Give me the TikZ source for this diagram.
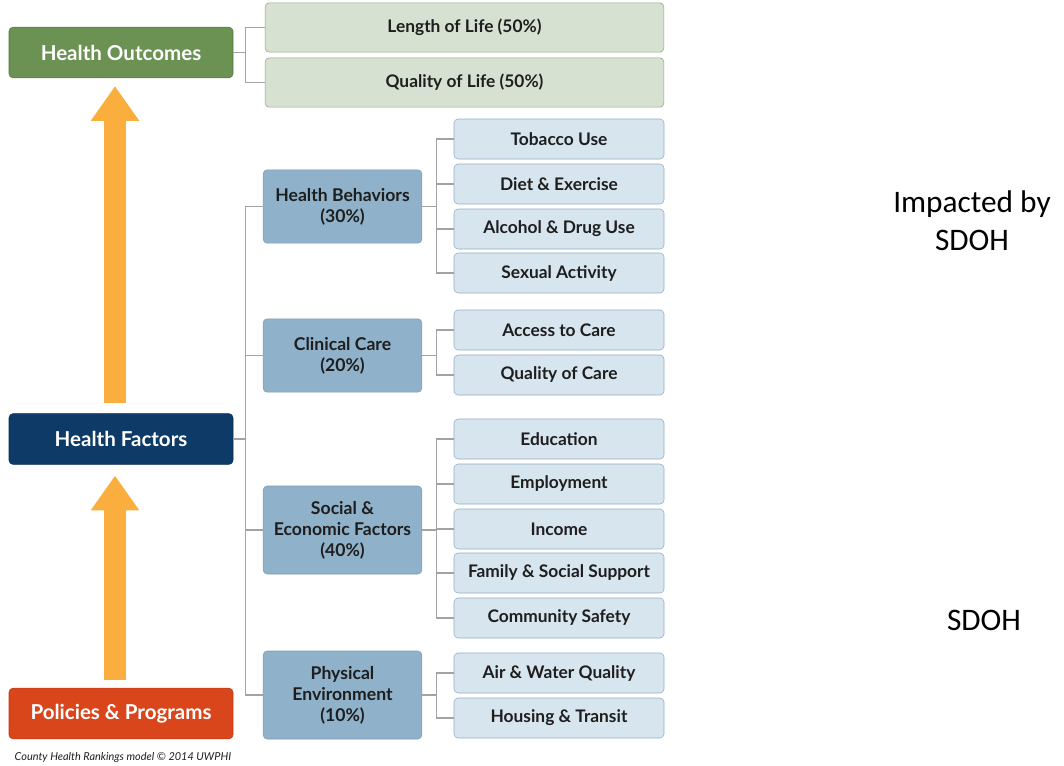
\documentclass[tikz,border=0pt]{standalone}
\usepackage{fontspec}
\setmainfont{Lato}
\newfontfamily\calibrifont{Carlito}
\usepackage{xcolor}
\usetikzlibrary{arrows.meta,calc,positioning}

\definecolor{outgreen}{HTML}{6B9153}
\definecolor{outgreenline}{HTML}{56783F}
\definecolor{outleaf}{HTML}{D6E1D1}
\definecolor{outleafline}{HTML}{8BAA79}
\definecolor{factnavy}{HTML}{0D3A67}
\definecolor{polred}{HTML}{D9461C}
\definecolor{midblue}{HTML}{8FB1C9}
\definecolor{midblueline}{HTML}{7C9CB5}
\definecolor{leafblue}{HTML}{D7E5EE}
\definecolor{leafblueline}{HTML}{93ABC6}
\definecolor{arroworange}{HTML}{F9AE3D}
\definecolor{linkgray}{HTML}{A3A3A3}
\definecolor{boxtext}{HTML}{1E1E1E}

\begin{document}
\begin{tikzpicture}[
  x=0.75pt,y=-0.75pt,
  font=\bfseries,
  >=Latex,
  mainbox/.style={draw,rounded corners=3pt,align=center,text=white,
                  minimum width=168pt,minimum height=38pt,font=\fontsize{15.4}{18}\selectfont\bfseries},
  outbox/.style={draw=outleafline,fill=outleaf,rounded corners=3pt,align=center,text=boxtext,
                 minimum width=299pt,minimum height=37pt,font=\fontsize{13}{15}\selectfont\bfseries},
  midbox/.style={draw=midblueline,fill=midblue,rounded corners=3pt,align=center,text=boxtext,
                 minimum width=119pt,inner sep=1pt,font=\fontsize{13.2}{15.75}\selectfont\bfseries},
  leafbox/.style={draw=leafblueline,fill=leafblue,rounded corners=3pt,align=center,text=boxtext,
                  minimum width=157.5pt,minimum height=30pt,inner sep=1pt,font=\fontsize{13}{15}\selectfont\bfseries},
  link/.style={draw=linkgray,line width=0.9pt},
  uparrow/.style={draw=arroworange,line width=16pt,
                  -{Triangle[width=34.5pt,length=26pt]}}
]
\useasboundingbox (0,0) rectangle (1064,765);

% left column
\node[mainbox,fill=outgreen,draw=outgreenline] (ho) at (121,52.5) {Health Outcomes};
\node[mainbox,fill=factnavy,draw=factnavy!80!black] (hf) at (121,439) {Health Factors};
\node[mainbox,fill=polred,draw=polred!85!black] (pp) at (121,713.5) {Policies \& Programs};

\draw[uparrow,shorten <=7.5pt,shorten >=6pt]
  ([xshift=-4.5pt]hf.north) -- ([xshift=-4.5pt]ho.south);
\draw[uparrow,shorten <=6pt,shorten >=8.25pt]
  ([xshift=-4.5pt]pp.north) -- ([xshift=-4.5pt]hf.south);

\node[anchor=west,font=\fontsize{8.2}{10}\selectfont\itshape,text=boxtext] (credit) at (10,757)
  {County Health Rankings model \textcopyright{} 2014 UWPHI};

% outcomes
\node[outbox] (lol) at (464.5,27.5) {Length of Life (50\%)};
\node[outbox] (qol) at (464.5,82.5) {Quality of Life (50\%)};

% factor groups
\node[midbox,minimum height=55pt] (hb) at (342.5,206.5) {Health Behaviors\\(30\%)};
\node[midbox,minimum height=55pt] (cc) at (342.5,355.5) {Clinical Care\\(20\%)};
\node[midbox,minimum height=66pt] (sef) at (342.5,530) {Social \&\\Economic Factors\\(40\%)};
\node[midbox,minimum height=66pt] (pe) at (342.5,695) {Physical\\Environment\\(10\%)};

% single factors
\node[leafbox] (tob) at (559,139) {Tobacco Use};
\node[leafbox] (diet) at (559,184) {Diet \& Exercise};
\node[leafbox] (alc) at (559,229) {Alcohol \& Drug Use};
\node[leafbox] (sex) at (559,273) {Sexual Activity};
\node[leafbox] (acc) at (559,330) {Access to Care};
\node[leafbox] (qoc) at (559,375) {Quality of Care};
\node[leafbox] (edu) at (559,439) {Education};
\node[leafbox] (emp) at (559,484) {Employment};
\node[leafbox] (inc) at (559,529) {Income};
\node[leafbox] (fam) at (559,573) {Family \& Social Support};
\node[leafbox] (com) at (559,618) {Community Safety};
\node[leafbox] (air) at (559,673) {Air \& Water Quality};
\node[leafbox] (hou) at (559,718) {Housing \& Transit};

% tree lines
\foreach \kid in {lol,qol}
  \draw[link] (ho.east) -- ++(9pt,0) |- (\kid.west);
\foreach \kid in {hb,cc,sef,pe}
  \draw[link] (hf.east) -- ++(9pt,0) |- (\kid.west);
\foreach \kid in {tob,diet,alc,sex}
  \draw[link] (hb.east) -- ++(10.5pt,0) |- (\kid.west);
\foreach \kid in {acc,qoc}
  \draw[link] (cc.east) -- ++(10.5pt,0) |- (\kid.west);
\foreach \kid in {edu,emp,inc,fam,com}
  \draw[link] (sef.east) -- ++(10.5pt,0) |- (\kid.west);
\foreach \kid in {air,hou}
  \draw[link] (pe.east) -- ++(10.5pt,0) |- (\kid.west);

% notes on the right
\node[align=center,font=\calibrifont\fontsize{23.5}{28.5}\selectfont] (impacted) at (972,221) {Impacted by\\SDOH};
\node[font=\calibrifont\fontsize{23.5}{28}\selectfont] (sdoh) at (984,620) {SDOH};
\end{tikzpicture}
\end{document}
